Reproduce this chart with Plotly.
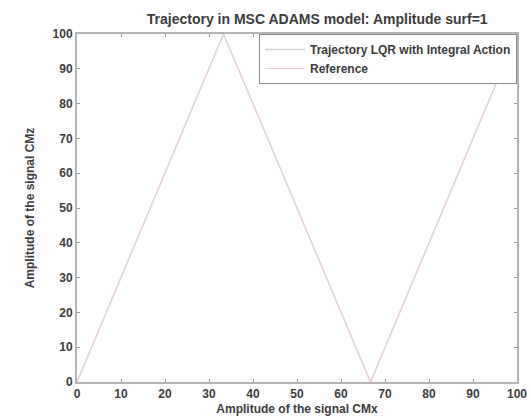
import plotly.graph_objects as go

# Triangle-wave path in the CMx / CMz plane
traj_x = [0, 33.3, 66.7, 100]
traj_z = [0, 100, 0, 100]
ref_x = [0, 33.3, 66.7, 100]
ref_z = [0, 100, 0, 100]

tick_vals = [0, 10, 20, 30, 40, 50, 60, 70, 80, 90, 100]

font_family = "Liberation Sans, Arial, sans-serif"
text_color = "#3c3c3c"
base_font = dict(family=font_family, size=12, color=text_color, weight="bold")

fig = go.Figure()
fig.add_trace(go.Scatter(
    x=traj_x, y=traj_z, mode="lines",
    name="Trajectory LQR with Integral Action",
    line=dict(color="#d8d4d8", width=1.5),
))
fig.add_trace(go.Scatter(
    x=ref_x, y=ref_z, mode="lines",
    name="Reference",
    line=dict(color="#ecd2d6", width=1.2),
))

axis_common = dict(
    range=[0, 100],
    tickvals=tick_vals,
    ticks="inside",
    ticklen=3,
    tickcolor="#9a9a9a",
    showline=True,
    linecolor="#b4b4b4",
    linewidth=2,
    mirror="ticks",
    showgrid=False,
    zeroline=False,
    tickfont=base_font,
    automargin=False,
)

fig.update_layout(
    width=531,
    height=416,
    margin=dict(l=77, r=14, t=34, b=34),
    paper_bgcolor="white",
    plot_bgcolor="white",
    title=dict(
        text="Trajectory in MSC ADAMS model: Amplitude surf=1",
        xref="paper", x=0.546, xanchor="center",
        yref="container", y=0.965, yanchor="top",
        font=dict(family=font_family, size=14, color=text_color, weight="bold"),
    ),
    xaxis=dict(
        **axis_common,
        title=dict(text="Amplitude of the signal CMx", font=base_font),
    ),
    yaxis=dict(
        **axis_common,
        title=dict(text="Amplitude of the signal CMz", font=base_font),
    ),
    legend=dict(
        x=1, y=1, xanchor="right", yanchor="top",
        bgcolor="white",
        bordercolor="#8a8a8a",
        borderwidth=1,
        font=base_font,
        itemwidth=40,
        tracegroupgap=0,
    ),
    showlegend=True,
)

fig.write_html("out.html")
